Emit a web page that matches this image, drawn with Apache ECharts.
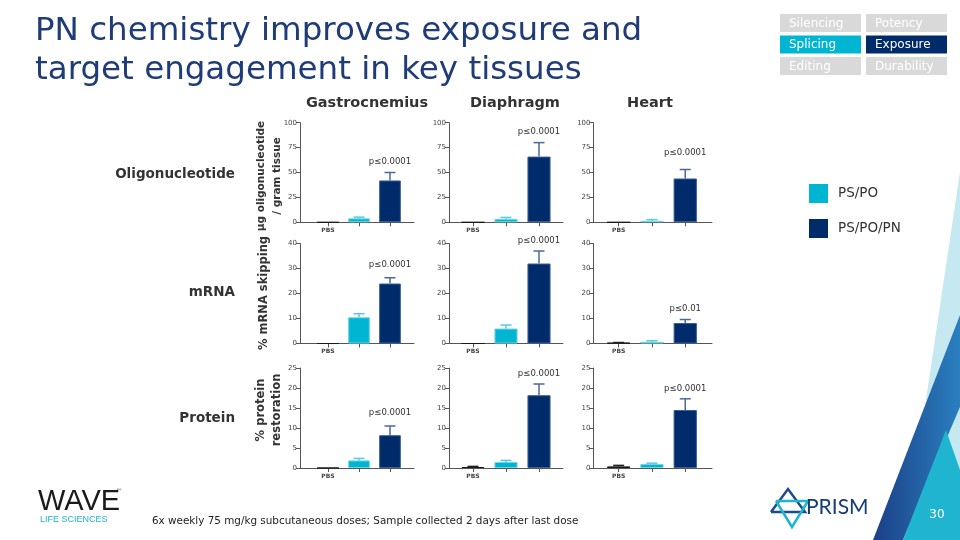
<!DOCTYPE html>
<html><head><meta charset="utf-8">
<script src="https://cdn.jsdelivr.net/npm/echarts@6/dist/echarts.min.js"></script>
<style>html,body{margin:0;padding:0;background:#fff}#c{width:960px;height:540px}</style>
</head><body><div id="c"></div>
<script>
// ---------- data ----------
const tissues = ['Gastrocnemius','Diaphragm','Heart'];
const readouts = ['Oligonucleotide','mRNA','Protein'];
const groups = ['PBS','PS/PO','PS/PO/PN'];
const xLabels = ['PBS','',''];
const yMax = [100,40,25];
const yStep = [25,10,5];
// per tissue: [PBS, PS/PO, PS/PO/PN]
const oligoMean = [[0,4,42],[0,3.5,66],[0,1.5,44]];
const oligoErr  = [[0,1.2,8],[0,1.4,14],[0,1.2,9]];
const mrnaMean  = [[0,10.5,24],[0,6,32],[0.3,0.7,8.2]];
const mrnaErr   = [[0,1.4,2.3],[0,1.4,5],[0.1,0.4,1.4]];
const protMean  = [[0,1.9,8.2],[0.25,1.5,18.2],[0.4,1.0,14.5]];
const protErr   = [[0,0.5,2.3],[0.15,0.4,2.8],[0.25,0.2,2.8]];
const pOligo = ['p≤0.0001','p≤0.0001','p≤0.0001'];
const pMrna  = ['p≤0.0001','p≤0.0001','p≤0.01'];
const pProt  = ['p≤0.0001','p≤0.0001','p≤0.0001'];
const yTitles = [['µg oligonucleotide','/ gram tissue'],['% mRNA skipping'],['% protein','restoration']];
const titleLines = ['PN chemistry improves exposure and','target engagement in key tissues'];
const boxLabels = [['Silencing','Potency'],['Splicing','Exposure'],['Editing','Durability']];
const footnote = '6x weekly 75 mg/kg subcutaneous doses; Sample collected 2 days after last dose';
const pageNo = '30';

// ---------- layout / style ----------
const colLayout = [{axisX:300,left:312.5,band:31,end:414},{axisX:449,left:456.5,band:33,end:563},{axisX:593.5,left:602,band:33.3,end:712}];
const rowLayout = [{top:122.7,bottom:222.3},{top:243.5,bottom:343.5},{top:368,bottom:468}];
const barColors = ['#1a1a1a','#00b5d2','#002b6b'];
const borderColors = ['#1a1a1a','#6fd6e6','#3b5f98'];
const errColors = ['#222222','#55cde0','#4a6a9c'];
const pGap = [[11,11,17],[13,10,11],[13,10,10]];
const yTitleFont = [10.5,11.5,11.5];
const FONT = 'DejaVu Sans';

const means=[oligoMean,mrnaMean,protMean], errs=[oligoErr,mrnaErr,protErr], pl=[pOligo,pMrna,pProt];
const grid=[],xAxis=[],yAxis=[],series=[];

function makeRender(label, gap){
  return function(params, api){
    const idx=api.value(0), v=api.value(1), e=api.value(2);
    const base=api.coord([idx,v]), top=api.coord([idx,v+e]);
    const ch=[];
    if(e>0){
      ch.push({type:'line',shape:{x1:top[0],y1:base[1],x2:top[0],y2:top[1]},style:{stroke:errColors[idx],lineWidth:1.5}});
      ch.push({type:'line',shape:{x1:top[0]-5.5,y1:top[1],x2:top[0]+5.5,y2:top[1]},style:{stroke:errColors[idx],lineWidth:1.5}});
    }
    if(idx===2){
      ch.push({type:'text',x:top[0],y:top[1]-gap,style:{text:label,fill:'#333',font:'8.5px "DejaVu Sans"',textAlign:'center',textVerticalAlign:'middle'}});
    }
    return {type:'group',children:ch};
  };
}

for(let r=0;r<3;r++){
  for(let c=0;c<3;c++){
    const k=r*3+c, gA=2*k, gB=2*k+1, L=colLayout[c], R=rowLayout[r];
    grid.push({left:L.left,top:R.top,width:3*L.band,height:R.bottom-R.top});
    grid.push({left:L.axisX,top:R.top,width:L.end-L.axisX,height:R.bottom-R.top});
    xAxis.push({gridIndex:gA,type:'category',data:xLabels,axisLine:{show:false},
      axisTick:{show:true,alignWithLabel:true,interval:0,length:4,lineStyle:{color:'#555'}},
      axisLabel:{interval:0,fontSize:6,fontWeight:'bold',color:'#444',margin:5,fontFamily:FONT}});
    xAxis.push({gridIndex:gB,type:'category',data:[''],axisLine:{show:true,lineStyle:{color:'#555',width:1}},axisTick:{show:false},axisLabel:{show:false}});
    yAxis.push({gridIndex:gA,type:'value',min:0,max:yMax[r],interval:yStep[r],show:false,splitLine:{show:false}});
    yAxis.push({gridIndex:gB,type:'value',min:0,max:yMax[r],interval:yStep[r],
      axisLine:{show:true,lineStyle:{color:'#555'}},axisTick:{show:true,length:4,lineStyle:{color:'#555'}},
      axisLabel:{fontSize:7,color:'#444',margin:3,fontFamily:FONT},splitLine:{show:false}});
    groups.forEach((g,i)=>{
      series.push({type:'bar',name:g,xAxisIndex:gA,yAxisIndex:gA,stack:'s'+k,barWidth:'70%',
        data:means[r][c].map((v,j)=>j===i?v:'-'),
        itemStyle:{color:barColors[i],borderColor:borderColors[i],borderWidth:1},silent:true});
    });
    series.push({type:'custom',xAxisIndex:gA,yAxisIndex:gA,z:5,silent:true,
      data:means[r][c].map((v,j)=>[j,v,errs[r][c][j]]),
      encode:{x:0,y:1},renderItem:makeRender(pl[r][c],pGap[r][c])});
  }
}

// ---------- graphics ----------
const g=[];
// right decoration
g.push({type:'polygon',shape:{points:[[960,172],[960,540],[905,540]]},style:{fill:'#c6e8f1'},z:-1});
g.push({type:'polygon',shape:{points:[[960,315],[873,540],[903,540],[960,407]]},style:{fill:new echarts.graphic.LinearGradient(0,0,1,0,[{offset:0,color:'#1b3f86'},{offset:1,color:'#2a7fbf'}])},z:-1});
g.push({type:'polygon',shape:{points:[[946,430],[903,540],[960,540],[960,470]]},style:{fill:'#1fb4d0'},z:-1});
g.push({type:'text',x:937,y:515,style:{text:pageNo,fill:'#fff',font:'12px "DejaVu Sans"',textAlign:'center',textVerticalAlign:'middle'}});
// title
titleLines.forEach((t,i)=>g.push({type:'text',x:35,y:32+i*39,style:{text:t,fill:'#1f3c78',font:'32.5px "DejaVu Sans"',textVerticalAlign:'middle'}}));
// top-right boxes
const boxX=[780,866], boxY=[14,35.5,57], boxW=81, boxH=18;
boxLabels.forEach((row,ri)=>row.forEach((t,ci)=>{
  let fill='#d9d9d9';
  if(t==='Splicing') fill='#00b5d2';
  if(t==='Exposure') fill='#002b6b';
  g.push({type:'rect',shape:{x:boxX[ci],y:boxY[ri],width:boxW,height:boxH},style:{fill:fill}});
  g.push({type:'text',x:boxX[ci]+9,y:boxY[ri]+boxH/2+0.5,style:{text:t,fill:'#fff',font:'12px "DejaVu Sans"',textVerticalAlign:'middle'}});
}));
// column titles
const colCenters=[367,515,650];
tissues.forEach((t,i)=>g.push({type:'text',x:colCenters[i],y:103,style:{text:t,fill:'#333',font:'bold 14.5px "DejaVu Sans"',textAlign:'center',textVerticalAlign:'middle'}}));
// row labels
const rowCenters=[174,292,418];
readouts.forEach((t,i)=>g.push({type:'text',x:235,y:rowCenters[i],style:{text:t,fill:'#333',font:'bold 13.5px "DejaVu Sans"',textAlign:'right',textVerticalAlign:'middle'}}));
// y titles (rotated)
const yTitleCy=[176,293,410];
yTitles.forEach((lines,i)=>{
  lines.forEach((t,j)=>{
    const x = lines.length===1 ? 264 : 261+j*16;
    g.push({type:'text',x:x,y:yTitleCy[i],rotation:Math.PI/2,style:{text:t,fill:'#333',font:'bold '+yTitleFont[i]+'px "DejaVu Sans"',textAlign:'center',textVerticalAlign:'middle'}});
  });
});
// footnote
g.push({type:'text',x:152,y:521,style:{text:footnote,fill:'#222',font:'10.4px "DejaVu Sans"',textVerticalAlign:'middle'}});
// WAVE logo
g.push({type:'text',x:38,y:502,style:{text:'WAVE',fill:'#1a1a1a',font:'29px "Liberation Sans"',textVerticalAlign:'middle'}});
g.push({type:'text',x:116,y:491,style:{text:'™',fill:'#1a1a1a',font:'6px "DejaVu Sans"',textVerticalAlign:'middle'}});
g.push({type:'text',x:40,y:520,style:{text:'LIFE SCIENCES',fill:'#1fb5d0',font:'9px "Liberation Sans"',textVerticalAlign:'middle'}});
// PRISM logo
g.push({type:'polyline',shape:{points:[[771,512],[788,489],[805,512],[771,512]]},style:{stroke:'#1c4c8c',lineWidth:2.5,fill:null}});
g.push({type:'polyline',shape:{points:[[776,501],[808,501],[792,527],[776,501]]},style:{stroke:'#1fb5d0',lineWidth:2.5,fill:null}});
g.push({type:'text',x:806,y:507,style:{text:'PRISM',fill:'#163d73',font:'21px "Lato"',textVerticalAlign:'middle'}});

const option={
  animation:false,
  backgroundColor:'#ffffff',
  grid, xAxis, yAxis, series,
  legend:{data:['PS/PO','PS/PO/PN'],orient:'vertical',left:809,top:184,padding:0,itemWidth:19,itemHeight:19,itemGap:16,icon:'rect',
    selectedMode:false,itemStyle:{borderWidth:0},textStyle:{fontSize:13.5,fontFamily:FONT,color:'#333',padding:[0,0,0,5]}},
  graphic:g
};
const chart=echarts.init(document.getElementById('c'),null,{renderer:'canvas'});
chart.setOption(option);
</script></body></html>
